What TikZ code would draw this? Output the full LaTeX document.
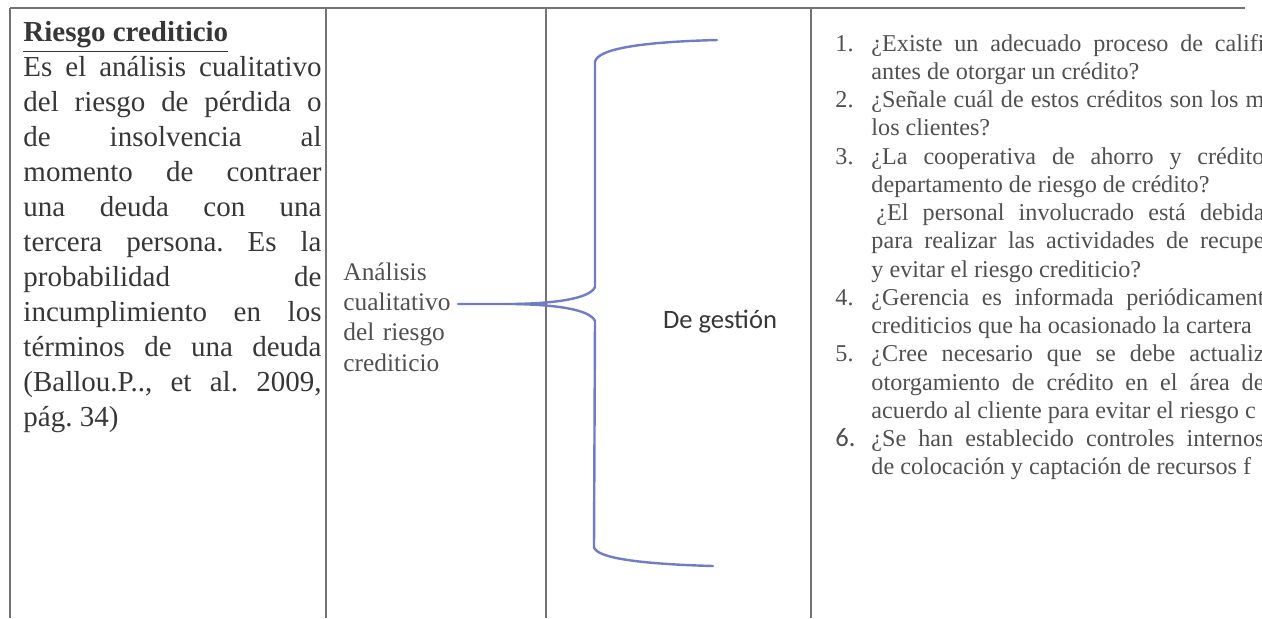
\documentclass[tikz,border=0pt]{standalone}
\usepackage{fontspec}
\setmainfont{Liberation Serif}
\newfontfamily\calibri{Carlito}
\frenchspacing
\definecolor{tinta}{RGB}{55,55,55}
\definecolor{tintaclara}{RGB}{80,80,80}
\definecolor{raya}{RGB}{115,115,115}
\definecolor{azul}{RGB}{112,124,196}
\newcommand{\preg}[1]{\noindent\hangindent=14.9pt\hangafter=1\makebox[14.9pt][l]{#1}}

\begin{document}
\begin{tikzpicture}[x=0.414pt,y=-0.414pt,
  linea/.style={draw=raya,line width=0.5pt},
  llave/.style={draw=azul,line width=1pt,line cap=round,line join=round},
  bloque/.style={inner sep=0pt,anchor=base west,text=tinta,align=justify}]
\useasboundingbox (0,0) rectangle (1262,618);
\clip (0,0) rectangle (1262,618);
% rayas de la tabla
\draw[linea] (10,8) -- (1245,8);
\foreach \x in {10,326,546,811}{\draw[linea] (\x,8) -- (\x,618);}

\node[bloque,text width=123.4pt,font=\fontsize{12}{14.5}\selectfont] (def) at (23,41.5) {\underline{\textbf{Riesgo crediticio}}\\
Es el análisis cualitativo\linebreak
del riesgo de pérdida o\linebreak
de insolvencia al\linebreak
momento de contraer\linebreak
una deuda con una\linebreak
tercera persona. Es la\linebreak
probabilidad de\linebreak
incumplimiento en los\linebreak
términos de una deuda\linebreak
(Ballou.P.., et al. 2009,\linebreak
pág. 34)};

\node[bloque,text width=60pt,align=left,text=tintaclara,font=\fontsize{10.5}{12.6}\selectfont] (analisis) at (343,280) {Análisis\\cualitativo\\del riesgo\\crediticio};

\node[text=tinta,font=\calibri\fontsize{11}{13}\selectfont] (gestion) at (720,322) {De gestión};

% llave
\coordinate (tallo) at (458,304);
\coordinate (cruce) at (515,304);
\coordinate (sup) at (717,40);
\coordinate (inf) at (713,566);
\draw[llave] (tallo) -- (cruce) .. controls (560,303) and (590,298) .. (595,287) -- (595,62) .. controls (597,49) and (640,42) .. (sup);
\draw[llave] (cruce) .. controls (560,305) and (590,310) .. (595,321) -- (594,547) .. controls (596,558) and (640,564) .. (inf);

\node[bloque,text width=177.6pt,text=tintaclara,font=\fontsize{10}{11.7}\selectfont] (preg) at (835,51) {\preg{1.}¿Existe un adecuado proceso de califi\linebreak antes de otorgar un crédito?\par
\preg{2.}¿Señale cuál de estos créditos son los m\linebreak los clientes?\par
\preg{3.}¿La cooperativa de ahorro y crédito\linebreak departamento de riesgo de crédito?\\\hspace*{2pt}¿El personal involucrado está debida\linebreak para realizar las actividades de recupe\linebreak y evitar el riesgo crediticio?\par
\preg{4.}¿Gerencia es informada periódicament\linebreak crediticios que ha ocasionado la cartera\par
\preg{5.}¿Cree necesario que se debe actualiz\linebreak otorgamiento de crédito en el área de\linebreak acuerdo al cliente para evitar el riesgo c\par
\preg{{\calibri\fontsize{11}{11.7}\selectfont 6.}}¿Se han establecido controles internos\linebreak de colocación y captación de recursos f\par};
\end{tikzpicture}
\end{document}
